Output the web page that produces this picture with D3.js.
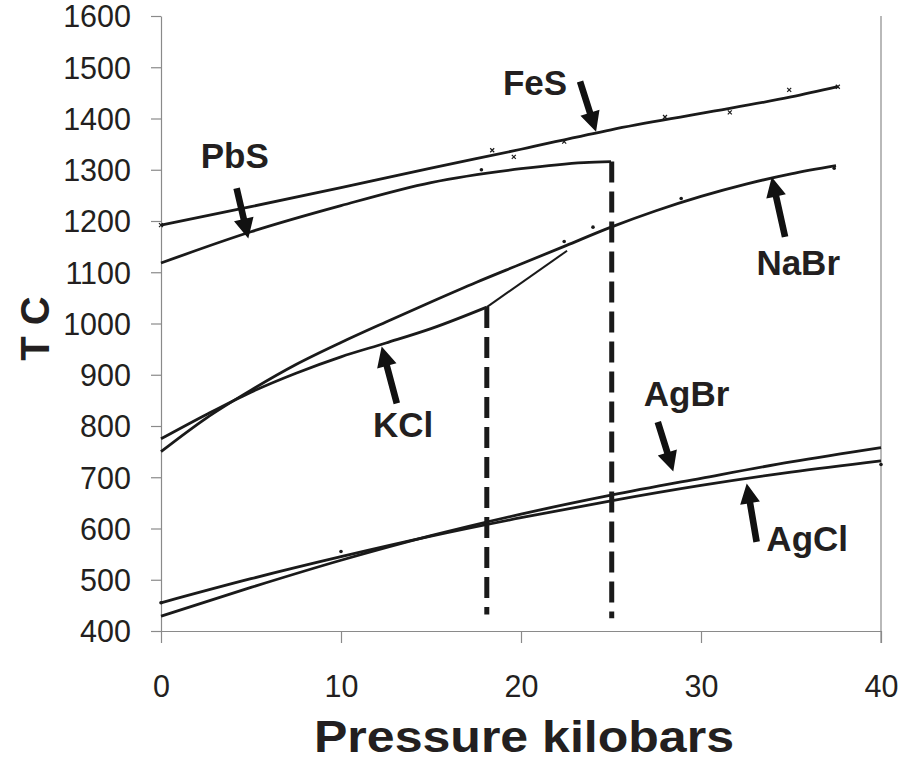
<!DOCTYPE html>
<html>
<head>
<meta charset="utf-8">
<script src="https://cdn.jsdelivr.net/npm/d3@7"></script>
<style>
  html, body { margin: 0; padding: 0; background: #fff; }
  svg text { font-family: "Liberation Sans", Arial, sans-serif; fill: #231f20; }
</style>
</head>
<body>
<svg id="chart" width="901" height="762"></svg>
<script>
// Melting curves: temperature (°C) versus pressure (kilobars)
const pressureFeS = [0, 5, 10, 15, 20, 25, 30, 35, 37.6];
const tempFeS     = [1192, 1228, 1265, 1303, 1340, 1378, 1410, 1442, 1462];

const pressurePbS = [0, 5, 10, 15, 20, 23.5, 25];
const tempPbS     = [1118, 1179, 1230, 1275, 1302, 1314, 1316];

const pressureNaBr = [0, 2.5, 5, 7.5, 10, 12.5, 15, 17.5, 20, 22.5, 25, 27.5, 30, 32.5, 35, 37.5];
const tempNaBr     = [750, 815, 870, 920, 963, 1003, 1042, 1080, 1116, 1152, 1188, 1220, 1248, 1272, 1292, 1308];

const pressureKCl = [0, 2.5, 5, 7.5, 10, 12.5, 15, 18.1];
const tempKCl     = [775, 822, 866, 903, 935, 962, 990, 1032];

// straight extension of the KCl curve past its break
const pressureKClExt = [18.1, 22.56];
const tempKClExt     = [1032, 1142];

const pressureAgBr = [0, 5, 10, 15, 20, 25, 30, 35, 40];
const tempAgBr     = [429, 485, 538, 586, 628, 665, 698, 730, 758];

const pressureAgCl = [0, 5, 10, 15, 20, 25, 30, 35, 40];
const tempAgCl     = [455, 502, 545, 585, 621, 654, 684, 710, 732];

// measured points scattered along the curves
const markerFeSP = [0, 18.4, 19.6, 22.4, 28, 31.6, 34.9, 37.6];
const markerFeST = [1192, 1338, 1325, 1355, 1403, 1412, 1456, 1462];
const markerDotP = [17.8, 22.4, 24, 28.9, 37.4, 10, 0, 40];
const markerDotT = [1300, 1160, 1188, 1244, 1303, 555, 455, 725];

// vertical dashed drops (pressure, top T, bottom T)
const dropP      = [18.1, 25.04];
const dropTop    = [1032, 1316];
const dropBottom = [432, 425];

// tick values
const xTicks = [0, 10, 20, 30, 40];
const yTicks = [400, 500, 600, 700, 800, 900, 1000, 1100, 1200, 1300, 1400, 1500, 1600];

// curve labels and their arrows (data coordinates)
const labelNames = ["FeS", "PbS", "NaBr", "KCl", "AgBr", "AgCl"];
const labelP     = [20.78, 4.1, 35.4, 13.45, 29.2, 35.9];
const labelT     = [1446, 1303, 1095, 779, 840, 556];
const arrowTailP = [23.28, 4.2, 34.67, 13.1, 27.6, 33.09];
const arrowTailT = [1472, 1264, 1169, 844, 808, 574];
const arrowTipP  = [24.17, 4.85, 33.93, 12.26, 28.46, 32.54];
const arrowTipT  = [1374, 1166, 1286, 955, 711, 688];

(function draw() {
  const svg = d3.select("#chart");
  const plotLeft = 161, plotRight = 881, plotTop = 16, plotBottom = 631;

  const x = d3.scaleLinear().domain([0, 40]).range([plotLeft, plotRight]);
  const y = d3.scaleLinear().domain([400, 1600]).range([plotBottom, plotTop]);

  const axisColor = "#8a8a8a";

  // right frame edge
  svg.append("line")
    .attr("x1", plotRight).attr("x2", plotRight)
    .attr("y1", plotTop).attr("y2", plotBottom + 12)
    .attr("stroke", axisColor).attr("stroke-width", 1.2);

  // axes
  const xAxis = svg.append("g")
    .attr("transform", `translate(0,${plotBottom})`)
    .call(d3.axisBottom(x).tickValues(xTicks).tickFormat(d3.format("d"))
      .tickSize(12).tickSizeOuter(0).tickPadding(32));
  const yAxis = svg.append("g")
    .attr("transform", `translate(${plotLeft},0)`)
    .call(d3.axisLeft(y).tickValues(yTicks).tickFormat(d3.format("d"))
      .tickSize(10).tickSizeOuter(0).tickPadding(20));

  [xAxis, yAxis].forEach(g => {
    g.select(".domain").attr("stroke", axisColor).attr("stroke-width", 1.2);
    g.selectAll(".tick line").attr("stroke", axisColor).attr("stroke-width", 1.2);
    g.selectAll(".tick text")
      .attr("fill", "#231f20")
      .style("font-size", "30.5px")
      .style("font-family", '"Liberation Sans", Arial, sans-serif');
  });
  yAxis.selectAll(".tick text").attr("dy", "0.36em");
  xAxis.selectAll(".tick text").attr("dy", "0.72em");

  // axis titles
  svg.append("text")
    .attr("x", 524)
    .attr("y", 752)
    .attr("text-anchor", "middle")
    .attr("textLength", 420)
    .attr("lengthAdjust", "spacingAndGlyphs")
    .style("font-size", "45px")
    .style("font-weight", "bold")
    .text("Pressure kilobars");

  svg.append("text")
    .attr("transform", `translate(49,${y(990)}) rotate(-90)`)
    .attr("text-anchor", "middle")
    .style("font-size", "40px")
    .style("font-weight", "bold")
    .text("T C");

  // curves
  const line = d3.line()
    .x(d => x(d[0]))
    .y(d => y(d[1]))
    .curve(d3.curveMonotoneX);

  const curves = [
    [pressureFeS, tempFeS],
    [pressurePbS, tempPbS],
    [pressureNaBr, tempNaBr],
    [pressureKCl, tempKCl],
    [pressureAgBr, tempAgBr],
    [pressureAgCl, tempAgCl]
  ];

  svg.append("g").selectAll("path")
    .data(curves)
    .join("path")
    .attr("d", c => line(d3.zip(c[0], c[1])))
    .attr("fill", "none")
    .attr("stroke", "#1a1a1a")
    .attr("stroke-width", 2.8)
    .attr("stroke-linejoin", "round");

  svg.append("path")
    .attr("d", d3.line().x(d => x(d[0])).y(d => y(d[1]))(d3.zip(pressureKClExt, tempKClExt)))
    .attr("fill", "none")
    .attr("stroke", "#1a1a1a")
    .attr("stroke-width", 2);

  // dashed drops
  svg.append("g").selectAll("line")
    .data(d3.range(dropP.length))
    .join("line")
    .attr("x1", i => x(dropP[i])).attr("x2", i => x(dropP[i]))
    .attr("y1", i => y(dropTop[i])).attr("y2", i => y(dropBottom[i]))
    .attr("stroke", "#1a1a1a")
    .attr("stroke-width", 5)
    .attr("stroke-dasharray", "21,9");

  // markers
  svg.append("g").selectAll("path")
    .data(d3.range(markerFeSP.length))
    .join("path")
    .attr("d", i => {
      const cx = x(markerFeSP[i]), cy = y(markerFeST[i]), s = 2;
      return `M${cx - s},${cy - s}L${cx + s},${cy + s}M${cx - s},${cy + s}L${cx + s},${cy - s}`;
    })
    .attr("stroke", "#1a1a1a")
    .attr("stroke-width", 1.2);

  svg.append("g").selectAll("circle")
    .data(d3.range(markerDotP.length))
    .join("circle")
    .attr("cx", i => x(markerDotP[i]))
    .attr("cy", i => y(markerDotT[i]))
    .attr("r", 1.8)
    .attr("fill", "#1a1a1a");

  // arrows
  function arrowPath(x0, y0, x1, y1) {
    const dx = x1 - x0, dy = y1 - y0;
    const len = Math.hypot(dx, dy);
    const ux = dx / len, uy = dy / len;
    const nx = -uy, ny = ux;
    const headLen = 20, headW = 10, shaftW = 3.3;
    const bx = x1 - ux * headLen, by = y1 - uy * headLen;
    const pts = [
      [x0 + nx * shaftW, y0 + ny * shaftW],
      [bx + nx * shaftW, by + ny * shaftW],
      [bx + nx * headW, by + ny * headW],
      [x1, y1],
      [bx - nx * headW, by - ny * headW],
      [bx - nx * shaftW, by - ny * shaftW],
      [x0 - nx * shaftW, y0 - ny * shaftW]
    ];
    return "M" + pts.map(p => p.join(",")).join("L") + "Z";
  }

  svg.append("g").selectAll("path")
    .data(d3.range(labelNames.length))
    .join("path")
    .attr("d", i => arrowPath(x(arrowTailP[i]), y(arrowTailT[i]), x(arrowTipP[i]), y(arrowTipT[i])))
    .attr("fill", "#111");

  svg.append("g").selectAll("text")
    .data(d3.range(labelNames.length))
    .join("text")
    .attr("x", i => x(labelP[i]))
    .attr("y", i => y(labelT[i]))
    .attr("text-anchor", "middle")
    .style("font-size", "35px")
    .style("font-weight", "bold")
    .text(i => labelNames[i]);
})();
</script>
</body>
</html>
